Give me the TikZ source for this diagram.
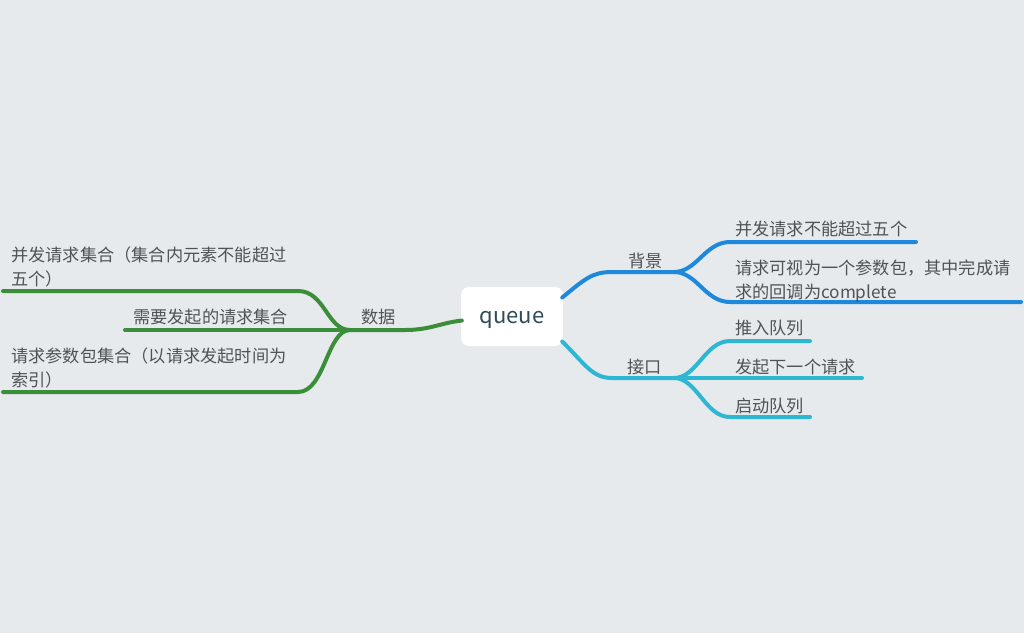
\documentclass[tikz,border=0pt]{standalone}
\usepackage{fontspec}
\setmainfont{Noto Sans CJK SC}
\definecolor{bgc}{HTML}{E6EAED}
\definecolor{txtc}{HTML}{4F5356}
\definecolor{rootc}{HTML}{2F4B5A}
\definecolor{bluec}{HTML}{1E88DC}
\definecolor{cyanc}{HTML}{2EB7D2}
\definecolor{greenc}{HTML}{3A8E3A}
\tikzset{
  lbl/.style={inner sep=0pt, text=txtc, font=\fontsize{17.2}{24}\selectfont, align=left},
  rootbox/.style={fill=white, rounded corners=8pt, minimum width=102pt, minimum height=59pt, inner sep=0pt, text=rootc, text height=13pt, text depth=0pt, font=\fontsize{22}{26}\selectfont},
  br/.style={line width=4pt, line cap=round},
}
\begin{document}
\begin{tikzpicture}[x=1pt,y=-1pt]
\fill[bgc] (0,0) rectangle (1024,633);
\useasboundingbox (0,0) rectangle (1024,633);
% root
\node[rootbox] (q) at (512,316.5) {queue};
% named points
\coordinate (bB) at (674,272);
\coordinate (bC) at (674,378);
\coordinate (bD) at (350,330);
\coordinate (e1) at (916,242);
\coordinate (e2) at (1021,302);
\coordinate (e3) at (810,341);
\coordinate (e4) at (862,378);
\coordinate (e5) at (810,417);
\coordinate (g1) at (3,291);
\coordinate (g2) at (125,330);
\coordinate (g3) at (3,392);
% blue branch
\draw[br,bluec] ([xshift=-1pt,yshift=19pt]q.east) .. controls (585,279) and (592,272) .. (612,272) -- (bB);
\draw[br,bluec] (bB) .. controls (697,272) and (705,242) .. (730,242) -- (e1);
\draw[br,bluec] (bB) .. controls (697,272) and (705,302) .. (730,302) -- (e2);
% cyan branch
\draw[br,cyanc] ([xshift=-1pt,yshift=-25pt]q.east) .. controls (585,364) and (592,378) .. (612,378) -- (bC);
\draw[br,cyanc] (bC) .. controls (697,378) and (705,341) .. (730,341) -- (e3);
\draw[br,cyanc] (bC) -- (e4);
\draw[br,cyanc] (bC) .. controls (697,378) and (705,417) .. (730,417) -- (e5);
% green branch
\draw[br,greenc] ([xshift=1pt,yshift=-4pt]q.west) .. controls (440,323) and (430,330) .. (405,330) -- (bD);
\draw[br,greenc] (bD) .. controls (327,330) and (325,291) .. (298,291) -- (g1);
\draw[br,greenc] (bD) -- (g2);
\draw[br,greenc] (bD) .. controls (327,330) and (325,392) .. (298,392) -- (g3);
% labels
\node[lbl,anchor=base west] (tB) at (628,267.5) {背景};
\node[lbl,anchor=base west] (tC) at (627,373.5) {接口};
\node[lbl,anchor=base west] (tD) at (361,323.5) {数据};
\node[lbl,anchor=base west] (t1) at (735,235.5) {并发请求不能超过五个};
\node[lbl,anchor=base west] (t2) at (735,298.5) {请求可视为一个参数包，其中完成请\\求的回调为complete};
\node[lbl,anchor=base west] (t3) at (735,334.5) {推入队列};
\node[lbl,anchor=base west] (t4) at (735,373.5) {发起下一个请求};
\node[lbl,anchor=base west] (t5) at (735,412.5) {启动队列};
\node[lbl,anchor=base west] (s1) at (11,285.5) {并发请求集合（集合内元素不能超过\\五个）};
\node[lbl,anchor=base west] (s2) at (133,323.5) {需要发起的请求集合};
\node[lbl,anchor=base west] (s3) at (11,386.5) {请求参数包集合（以请求发起时间为\\索引）};
\end{tikzpicture}
\end{document}
